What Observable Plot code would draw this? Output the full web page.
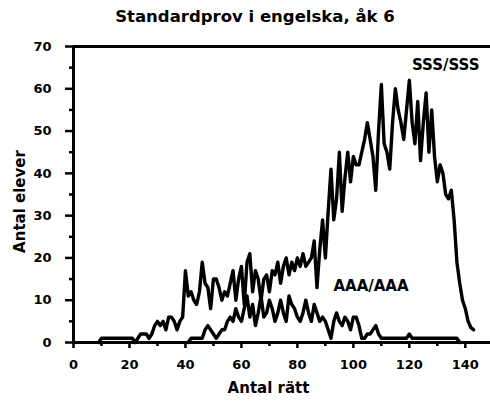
<!DOCTYPE html>
<html><head><meta charset="utf-8">
<script src="https://cdn.jsdelivr.net/npm/d3@7"></script>
<script src="https://cdn.jsdelivr.net/npm/@observablehq/plot@0.6"></script>
<style>
body{margin:0;background:#fff;width:490px;height:404px;overflow:hidden}
#title{height:30px;width:490px;position:relative;font-family:"DejaVu Sans";font-weight:bold;font-size:16.5px;color:#000}
#title span{position:absolute;left:255px;top:7px;line-height:20px;white-space:nowrap;transform:translateX(-50%)}
#chart svg{display:block}
</style></head>
<body>
<div id="title"><span>Standardprov i engelska, åk 6</span></div>
<div id="chart"></div>
<script>
const seriesNames = ["SSS/SSS", "AAA/AAA"];
const sssStart = 9;
const sssCounts = [0,
  1,1,1,1,1,1,1,1,1,1,1,1,
  0,
  1,2,2,2,1,2,4,5,4,5,3,6,6,5,3,5,6,
  17,11,12,10,9,12,19,14,13,8,
  15,15,13,10,12,11,14,17,10,15,
  18,9,19,21,12,17,15,10,15,16,
  12,17,16,19,14,18,20,16,19,17,
  20,18,21,18,19,20,24,13,22,29,
  20,31,41,29,34,45,31,39,45,38,
  44,42,42,45,48,52,48,44,36,50,
  61,47,45,41,52,60,55,52,48,55,
  62,52,47,57,43,52,59,45,55,44,
  38,42,40,35,34,36,29,19,14,10,
  8,5,3.5,3];
const aaaStart = 41;
const aaaCounts = [0,1,1,1,1,1,3,4,3,2,
  1,2,3,3,5,6,5,8,6,5,
  8,11,6,9,4,7,11,6,7,10,
  8,5,7,10,7,5,11,9,8,6,
  5,7,10,7,5,9,7,5,6,5,
  3,1,5,7,5,4,6,5,3,6,
  6,4,1,1,2,2,3,4,2,1,
  1,1,1,1,1,1,1,1,1,
  2,
  1,1,1,1,1,1,1,1,1,1,1,1,1,1,1,1,1,
  0];
const xTicks = [0,20,40,60,80,100,120,140];
const xMinor = [10,30,50,70,90,110,130];
const yTicks = [0,10,20,30,40,50,60,70];
const yMinor = [5,15,25,35,45,55,65];
const xTitle = "Antal rätt";
const yTitle = "Antal elever";

const rows = [];
sssCounts.forEach((v,i)=>rows.push({series:seriesNames[0], score:sssStart+i, n:v}));
aaaCounts.forEach((v,i)=>rows.push({series:seriesNames[1], score:aaaStart+i, n:v}));

const lab = {fontFamily:"DejaVu Sans", fontWeight:"bold", fill:"#000"};
const chart = Plot.plot({
  width:490, height:374,
  marginTop:16, marginBottom:62, marginLeft:73, marginRight:0,
  x:{domain:[0,149]},
  y:{domain:[0,70]},
  style:{fontFamily:"DejaVu Sans", fontWeight:"bold", fontSize:"13px", color:"#000", background:"#fff"},
  marks:[
    Plot.axisX({ticks:xTicks, tickSize:6, tickPadding:11, strokeWidth:2.5, fontSize:13, label:null}),
    Plot.axisX({ticks:xMinor, tickSize:4, text:null, strokeWidth:2.5, label:null}),
    Plot.axisY({ticks:yTicks, tickSize:8, tickPadding:14, strokeWidth:2.5, fontSize:13, label:null}),
    Plot.axisY({ticks:yMinor, tickSize:4, text:null, strokeWidth:2.5, label:null}),
    Plot.ruleY([0], {stroke:"#000", strokeWidth:3}),
    Plot.ruleY([70], {stroke:"#000", strokeWidth:3}),
    Plot.ruleX([0], {stroke:"#000", strokeWidth:3}),
    Plot.line(rows, {x:"score", y:"n", z:"series", stroke:"#000", strokeWidth:3.4, strokeLinejoin:"round"}),
    Plot.text([seriesNames[0]], {x:133, y:65.5, text:d=>d, fontSize:15, letterSpacing:0.8, ...lab}),
    Plot.text([seriesNames[1]], {x:106.3, y:13.2, text:d=>d, fontSize:15, letterSpacing:0.6, ...lab}),
    Plot.text([xTitle], {frameAnchor:"bottom", lineAnchor:"middle", textAnchor:"middle", dx:-13.5, dy:46, text:d=>d, fontSize:15, letterSpacing:1.2, ...lab}),
    Plot.text([yTitle], {frameAnchor:"left", lineAnchor:"middle", textAnchor:"middle", dx:-53, dy:7, rotate:-90, text:d=>d, fontSize:15, letterSpacing:1.8, ...lab})
  ]
});
document.getElementById("chart").appendChild(chart);
</script>
</body></html>
